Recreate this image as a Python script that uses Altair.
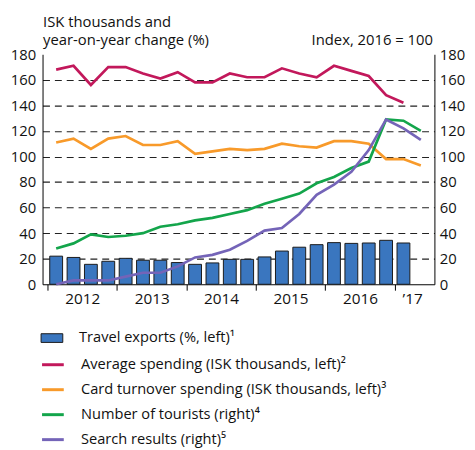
import altair as alt
import pandas as pd

# Quarters: 2012Q1 .. 2017Q2 as index 0..21
travel_exports = [22, 21, 15.6, 18, 20.3, 18.8, 18.8, 17, 15.6, 16.7, 19.5, 19.5, 21.4, 26, 29, 31, 32.6, 32, 32.3, 34.4, 32.3]
avg_spending = [168, 171, 156, 170, 170, 165, 161, 166, 158, 158, 165, 162, 162, 169, 165, 162, 171, 167, 163, 148, 142]
card_turnover = [111, 114, 106, 114, 116, 109, 109, 112, 102, 104, 106, 105, 106, 110, 108, 107, 112, 112, 110, 98, 98, 93]
tourists = [28, 32, 39, 37, 38, 40, 45, 47, 50, 52, 55, 58, 63, 67, 71, 79, 84, 91, 96, 129, 128, 120]
search = [0, 3, 3, 3, 6, 9, 9, 14, 21, 23, 27, 34, 42, 44, 55, 70, 78, 88, 105, 129, 122, 113]

year_labels = ["2012", "2013", "2014", "2015", "2016", "’17"]
year_label_pos = [1.5, 5.5, 9.5, 13.5, 17.5, 20.5]
year_bounds = [-0.5, 3.5, 7.5, 11.5, 15.5, 19.5]
y_ticks = [0, 20, 40, 60, 80, 100, 120, 140, 160, 180]

bar_name = "Travel exports (%, left)¹"
line_names = [
    "Average spending (ISK thousands, left)²",
    "Card turnover spending (ISK thousands, left)³",
    "Number of tourists (right)⁴",
    "Search results (right)⁵",
]
line_colors = ["#c2185b", "#f89a2a", "#13a54b", "#7464b8"]
bar_color = "#3a76bf"

FONT = "Open Sans"
TXT = "#111111"

bars_df = pd.DataFrame({"q": list(range(len(travel_exports))), "value": travel_exports, "series": bar_name})
left_df = pd.concat([
    pd.DataFrame({"q": list(range(len(avg_spending))), "value": avg_spending, "series": line_names[0]}),
    pd.DataFrame({"q": list(range(len(card_turnover))), "value": card_turnover, "series": line_names[1]}),
])
right_df = pd.concat([
    pd.DataFrame({"q": list(range(len(tourists))), "value": tourists, "series": line_names[2]}),
    pd.DataFrame({"q": list(range(len(search))), "value": search, "series": line_names[3]}),
])

label_expr = ""
for p, l in zip(year_label_pos, year_labels):
    label_expr += f"datum.value == {p} ? '{l}' : "
label_expr += "''"

x_enc = alt.X(
    "q:Q",
    scale=alt.Scale(domain=[-0.5, 21.5], nice=False, zero=False),
    axis=alt.Axis(
        values=year_bounds + year_label_pos,
        labelExpr=label_expr,
        tickOpacity={"condition": {"test": "(datum.value + 0.5) % 4 == 0", "value": 1}, "value": 0},
        tickSize=6,
        tickColor="black",
        domainColor="black",
        grid=False,
        title=None,
        labelFontSize=15.5,
        labelPadding=1,
        labelColor=TXT,
        labelFlush=False,
    ),
)

y_scale = alt.Scale(domain=[0, 180], nice=False, zero=True)
grid_op = {"condition": {"test": "datum.value == 0 || datum.value == 180", "value": 0}, "value": 1}

left_axis = alt.Axis(
    values=y_ticks,
    title=["ISK thousands and", "year-on-year change (%)"],
    titleAngle=0,
    titleAlign="left",
    titleBaseline="alphabetic",
    titleX=0,
    titleY=-28.5,
    titleFontSize=15,
    titleFontWeight="normal",
    titleColor=TXT,
    titleLineHeight=19,
    ticks=False,
    labelPadding=7,
    labelFontSize=15,
    labelColor=TXT,
    grid=True,
    gridDash=[7, 5],
    gridColor="#222",
    gridWidth=1.1,
    gridOpacity=grid_op,
    domainColor="black",
)
right_axis = alt.Axis(
    orient="right",
    values=y_ticks,
    title="Index, 2016 = 100",
    titleAngle=0,
    titleAlign="right",
    titleBaseline="alphabetic",
    titleX=-2,
    titleY=-10,
    titleFontSize=15,
    titleFontWeight="normal",
    titleColor=TXT,
    ticks=False,
    labelPadding=5,
    labelFontSize=15,
    labelColor=TXT,
    grid=False,
    domainColor="black",
)

color_scale = alt.Scale(domain=line_names, range=line_colors)
line_legend = alt.Legend(
    orient="none", legendX=-2, legendY=302, title=None,
    symbolType="stroke", symbolSize=484, symbolStrokeWidth=3,
    labelFontSize=14.8, labelOffset=16, rowPadding=5.3, padding=0,
    labelColor=TXT, labelLimit=420,
)

bars = alt.Chart(bars_df).mark_bar(size=13, stroke="#1a1a1a", strokeWidth=1).encode(
    x=x_enc,
    y=alt.Y("value:Q", scale=y_scale, axis=left_axis),
    fill=alt.Fill(
        "series:N",
        scale=alt.Scale(domain=[bar_name], range=[bar_color]),
        legend=alt.Legend(
            orient="none", legendX=-2, legendY=276, title=None,
            symbolType="M-1,-0.4H1V0.4H-1Z", symbolSize=484,
            symbolStrokeColor="#1a1a1a", symbolStrokeWidth=1,
            labelFontSize=14.8, labelOffset=16, padding=0,
            labelColor=TXT, labelLimit=420,
        ),
    ),
)

left_lines = alt.Chart(left_df).mark_line(strokeWidth=2.7).encode(
    x=x_enc,
    y=alt.Y("value:Q", scale=y_scale, axis=left_axis),
    color=alt.Color("series:N", scale=color_scale, legend=line_legend, sort=line_names),
    detail="series:N",
)

right_lines = alt.Chart(right_df).mark_line(strokeWidth=2.7).encode(
    x=x_enc,
    y=alt.Y("value:Q", scale=y_scale, axis=right_axis),
    color=alt.Color("series:N", scale=color_scale, legend=line_legend, sort=line_names),
    detail="series:N",
)

chart = alt.layer(alt.layer(bars, left_lines), right_lines).resolve_scale(
    y="independent"
).properties(
    width=397,
    height=233,
    autosize=alt.AutoSizeParams(type="none"),
    padding={"left": 35, "top": 44, "right": 33, "bottom": 164},
).configure(
    font=FONT,
).configure_view(
    stroke=None,
)

chart.save("out.html", embed_options={"renderer": "svg", "actions": False})
